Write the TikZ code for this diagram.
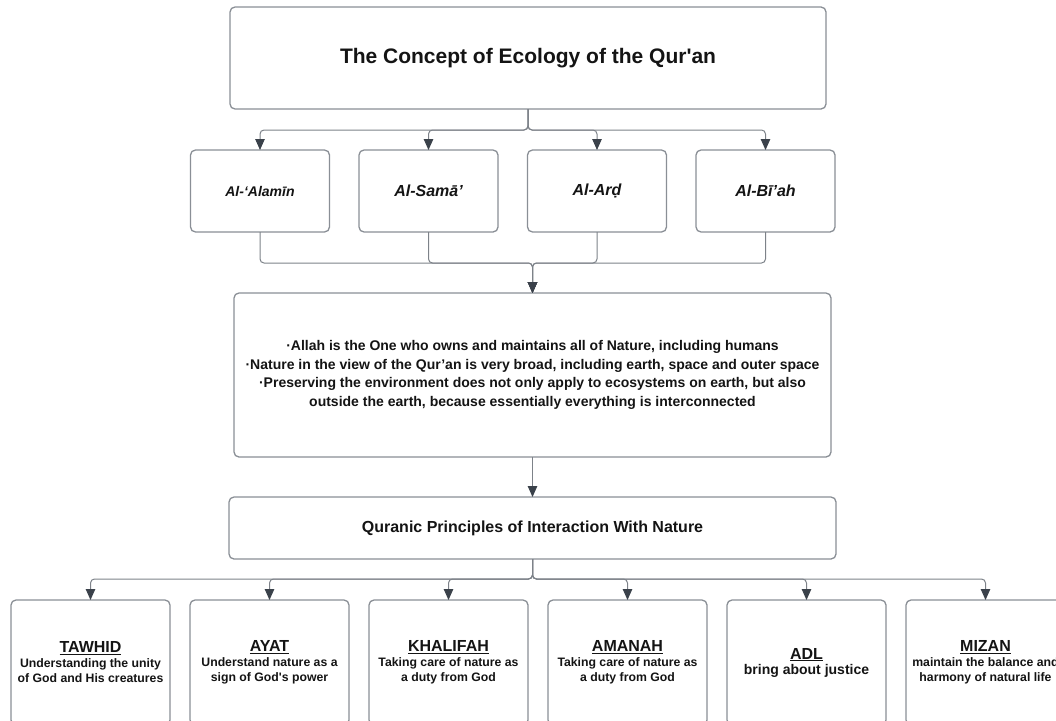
\documentclass[tikz,border=0pt]{standalone}
\usepackage{fontspec}
\setmainfont{Liberation Sans}[Ligatures=TeXOff]
\usetikzlibrary{positioning,arrows.meta}
\definecolor{frame}{HTML}{8A8F96}
\definecolor{wire}{HTML}{7D8289}
\definecolor{tip}{HTML}{3A414A}
\definecolor{ink}{HTML}{141414}
\newcommand{\rulehead}[1]{{\fontsize{16}{18}\selectfont\underline{#1}}}

\begin{document}
\begin{tikzpicture}[x=1pt, y=1pt, node distance=40pt and 29.5pt,
  box/.style={draw=frame, line width=1.3pt, outer sep=0pt, rounded corners=5pt, fill=white, align=center, text=ink, font=\bfseries},
  term/.style={box, minimum width=139pt, minimum height=82pt, font=\bfseries\itshape\fontsize{16}{19}\selectfont},
  principle/.style={box, inner sep=0pt, minimum width=159pt, minimum height=125pt, font=\bfseries\fontsize{12.25}{15}\selectfont},
  conn/.style={draw=wire, line width=1pt, rounded corners=4pt, -{Triangle[length=11pt, width=9.5pt, color=tip]}}]
  \clip (0,0) rectangle (1056,-720);
  \node[box, minimum width=596pt, minimum height=102pt, font=\bfseries\fontsize{21}{25}\selectfont] (concept) at (528,-58) {The Concept of Ecology of the Qur'an};

  \node[term, font=\bfseries\itshape\fontsize{14}{17}\selectfont] (alamin) at (260,-191) {Al-‘Alamīn};
  \node[term, right=of alamin] (samaa) {Al-Samā’};
  \node[term, right=of samaa] (ard) {Al-Arḍ};
  \node[term, right=of ard] (biah) {Al-Bī’ah};

  \node[box, minimum width=597pt, minimum height=164pt, font=\bfseries\fontsize{14}{18.5}\selectfont] (nature) at (532.5,-375) {·Allah is the One who owns and maintains all of Nature, including humans\\·Nature in the view of the Qur’an is very broad, including earth, space and outer space\\·Preserving the environment does not only apply to ecosystems on earth, but also\\outside the earth, because essentially everything is interconnected};
  \node[box, minimum width=607pt, minimum height=62pt, font=\bfseries\fontsize{16}{19}\selectfont, below=of nature] (principles) {Quranic Principles of Interaction With Nature};

  \node[principle] (tawhid) at (90.5,-662.5) {\rulehead{TAWHID}\\Understanding the unity\\of God and His creatures};
  \node[principle, right=20pt of tawhid] (ayat) {\rulehead{AYAT}\\Understand nature as a\\sign of God's power};
  \node[principle, right=20pt of ayat] (khalifah) {\rulehead{KHALIFAH}\\Taking care of nature as\\a duty from God};
  \node[principle, right=20pt of khalifah] (amanah) {\rulehead{AMANAH}\\Taking care of nature as\\a duty from God};
  \node[principle, right=20pt of amanah] (adl) {\rulehead{ADL}\\{\fontsize{14}{17}\selectfont bring about justice}};
  \node[principle, right=20pt of adl] (mizan) {\rulehead{MIZAN}\\maintain the balance and\\harmony of natural life};

  % concept splits into the four terms
  \foreach \t in {alamin,samaa,ard,biah}
    \draw[conn] (concept.south) -- ++(0,-21) -| (\t.north);
  % terms merge into the summary
  \foreach \t in {alamin,samaa,ard,biah}
    \draw[conn] (\t.south) -- ++(0,-31) -| (nature.north);
  \draw[conn] (nature.south) -- (principles.north);
  % principles
  \foreach \t in {tawhid,ayat,khalifah,amanah,adl,mizan}
    \draw[conn] (principles.south) -- ++(0,-20) -| (\t.north);
\end{tikzpicture}
\end{document}
